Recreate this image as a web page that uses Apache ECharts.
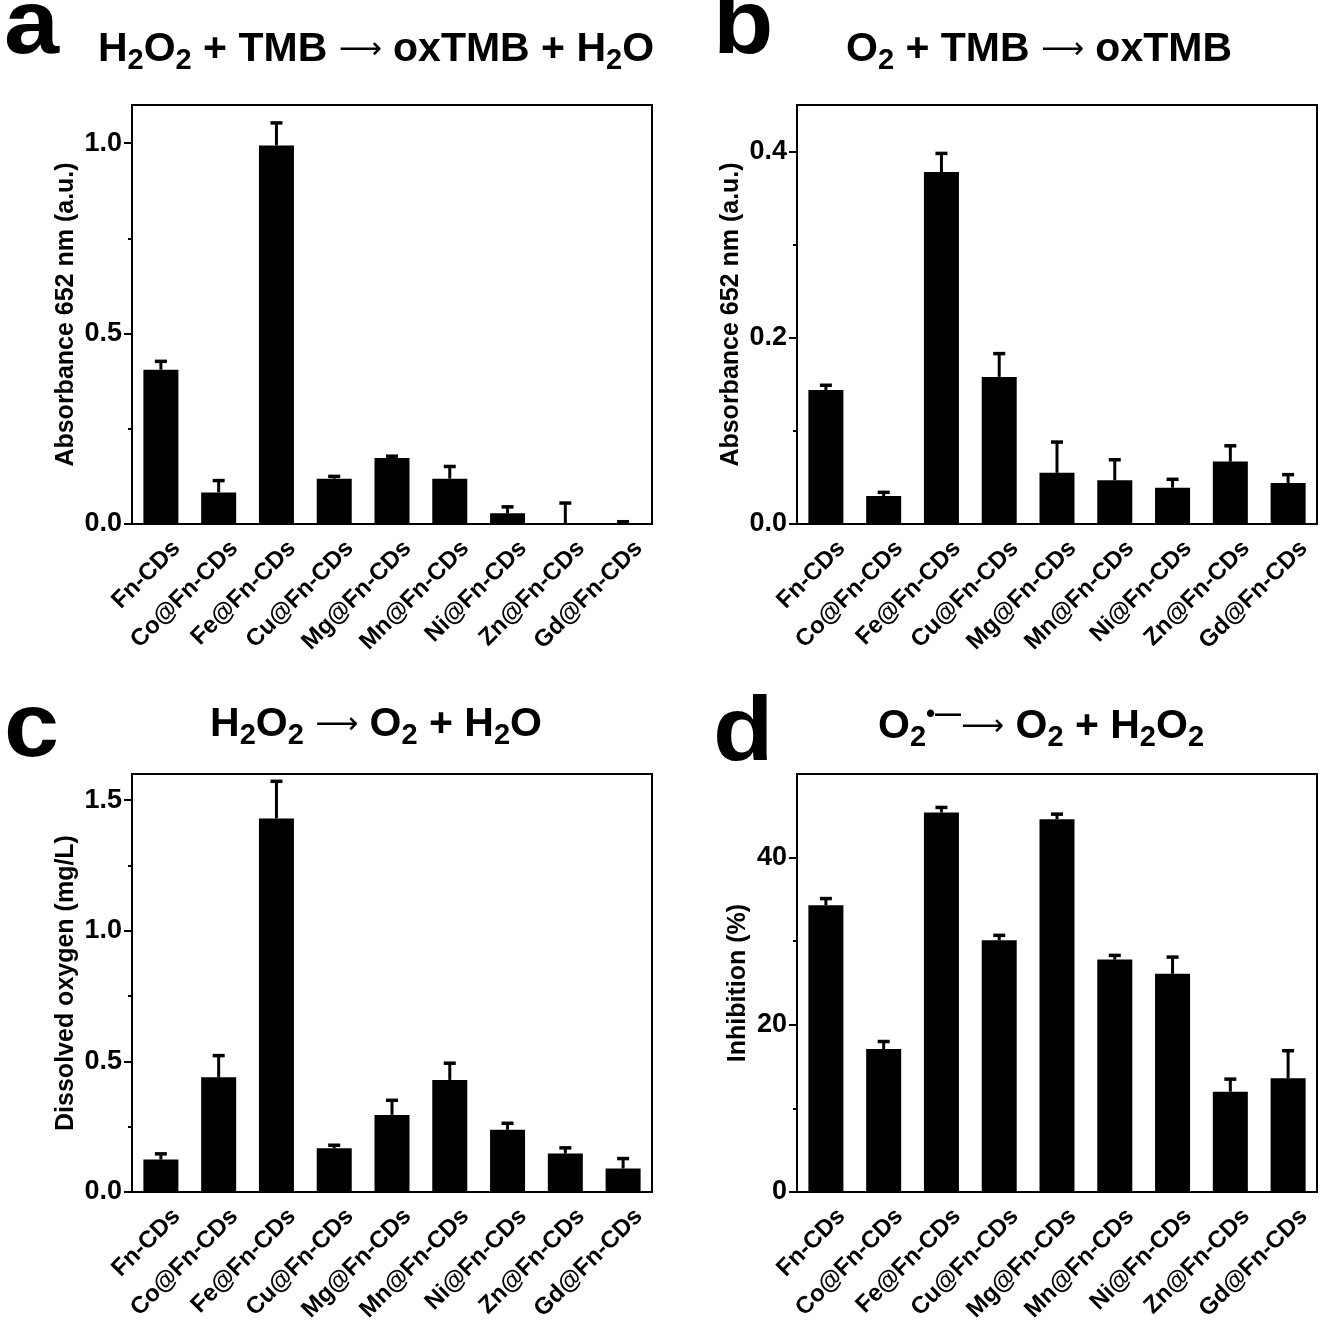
<!DOCTYPE html>
<html><head><meta charset="utf-8">
<script src="https://cdn.jsdelivr.net/npm/echarts@6/dist/echarts.min.js"></script>
<style>html,body{margin:0;padding:0;background:#fff}#c{width:1322px;height:1325px}</style>
</head><body><div id="c"></div>
<script>
const categories = ['Fn-CDs','Co@Fn-CDs','Fe@Fn-CDs','Cu@Fn-CDs','Mg@Fn-CDs','Mn@Fn-CDs','Ni@Fn-CDs','Zn@Fn-CDs','Gd@Fn-CDs'];

// panel a: peroxidase-like (Absorbance 652 nm)
const valuesA = [0.405,0.083,0.994,0.119,0.173,0.119,0.028,0.002,0.001];
const errorsA = [0.022,0.031,0.059,0.006,0.005,0.032,0.017,0.053,0.005];
// panel b: oxidase-like
const valuesB = [0.144,0.030,0.378,0.158,0.055,0.047,0.039,0.067,0.044];
const errorsB = [0.005,0.004,0.020,0.025,0.033,0.022,0.009,0.017,0.009];
// panel c: catalase-like (dissolved oxygen)
const valuesC = [0.124,0.439,1.430,0.167,0.295,0.429,0.238,0.147,0.090];
const errorsC = [0.022,0.083,0.142,0.012,0.056,0.064,0.025,0.022,0.038];
// panel d: SOD-like (inhibition %)
const valuesD = [34.3,17.1,45.4,30.1,44.6,27.8,26.1,12.0,13.6];
const errorsD = [0.8,0.9,0.6,0.6,0.6,0.5,2.0,1.5,3.3];

// axis ticks
const majorA = [0,0.5,1.0], minorA = [0.25,0.75], maxA = 1.1;
const majorB = [0,0.2,0.4], minorB = [0.1,0.3], maxB = 0.45;
const majorC = [0,0.5,1.0,1.5], minorC = [0.25,0.75,1.25], maxC = 1.6;
const majorD = [0,20,40], minorD = [10,30], maxD = 50;

const yNames = ['Absorbance 652 nm (a.u.)','Absorbance 652 nm (a.u.)','Dissolved oxygen (mg/L)','Inhibition (%)'];

const FONT = 'Liberation Sans, Arial, sans-serif';
const panels = [
  {vals:valuesA, errs:errorsA, major:majorA, minor:minorA, max:maxA, dec:1, grid:{left:132, top:105, width:520, height:419}, gap:53},
  {vals:valuesB, errs:errorsB, major:majorB, minor:minorB, max:maxB, dec:1, grid:{left:797, top:105, width:520, height:419}, gap:53},
  {vals:valuesC, errs:errorsC, major:majorC, minor:minorC, max:maxC, dec:1, grid:{left:132, top:774, width:520, height:418}, gap:53},
  {vals:valuesD, errs:errorsD, major:majorD, minor:minorD, max:maxD, dec:0, grid:{left:797, top:774, width:520, height:418}, gap:46}
];

const grids = [], xAxes = [], yAxes = [], series = [];
panels.forEach((p, k) => {
  grids.push(Object.assign({show:true, borderColor:'#000', borderWidth:2, backgroundColor:'transparent',
    containLabel:false, outerBoundsMode:'none'}, p.grid));
  xAxes.push({
    gridIndex:k, type:'category', data:categories,
    axisLine:{lineStyle:{color:'#000', width:2}},
    axisTick:{alignWithLabel:true, length:8, lineStyle:{color:'#000', width:2}},
    axisLabel:{rotate:45, interval:0, color:'#000', fontWeight:'bold', fontSize:24, fontFamily:FONT,
      margin:5, verticalAlign:'top', lineHeight:44}
  });
  yAxes.push({
    gridIndex:k, type:'value', min:0, max:p.max,
    axisLine:{show:true, lineStyle:{color:'#000', width:2}},
    axisTick:{show:true, length:8, customValues:p.major, lineStyle:{color:'#000', width:2}},
    axisLabel:{customValues:p.major, color:'#000', fontWeight:'bold', fontSize:27, fontFamily:FONT, margin:10,
      formatter: v => Number(v).toFixed(p.dec)},
    splitLine:{show:false},
    name:yNames[k], nameLocation:'middle', nameGap:p.gap,
    nameTextStyle:{color:'#000', fontWeight:'bold', fontSize:25, fontFamily:FONT}
  });
  yAxes.push({
    gridIndex:k, type:'value', min:0, max:p.max, position:'left', offset:0,
    axisLine:{show:false},
    axisTick:{show:true, length:4, customValues:p.minor, lineStyle:{color:'#000', width:2}},
    axisLabel:{show:false}, splitLine:{show:false}
  });
  series.push({
    type:'bar', xAxisIndex:k, yAxisIndex:2*k, data:p.vals, barWidth:35,
    itemStyle:{color:'#000'}, silent:true, animation:false, z:2
  });
  series.push({
    type:'custom', xAxisIndex:k, yAxisIndex:2*k, animation:false, silent:true, z:3,
    data: categories.map((c, i) => [i, p.vals[i], p.errs[i]]),
    encode:{x:0, y:1},
    renderItem: (params, api) => {
      const i = api.value(0), v = api.value(1), e = api.value(2);
      const a = api.coord([i, v]), b = api.coord([i, v + e]);
      return {type:'group', children:[
        {type:'line', shape:{x1:a[0], y1:a[1], x2:b[0], y2:b[1]}, style:{stroke:'#000', lineWidth:3}},
        {type:'line', shape:{x1:b[0]-6, y1:b[1], x2:b[0]+6, y2:b[1]}, style:{stroke:'#000', lineWidth:3.5}}
      ]};
    }
  });
});

const rich = {
  t:{fontSize:41, fontWeight:'bold', fontFamily:FONT, lineHeight:50, fill:'#000'},
  s:{fontSize:29, fontWeight:'bold', fontFamily:FONT, lineHeight:20, verticalAlign:'bottom', fill:'#000'},
  a:{fontSize:30, fontWeight:'normal', fontFamily:'DejaVu Sans', lineHeight:50, fill:'#000'},
  p:{fontSize:26, fontWeight:'bold', fontFamily:FONT, lineHeight:30, verticalAlign:'top', fill:'#000'}
};
function title(text, x, y){
  return {type:'text', x:x, y:y, style:{text:text, rich:rich, align:'center', verticalAlign:'middle', fill:'#000'}};
}
function letter(ch, x, y){
  return {type:'text', x:x, y:y, scaleX:1.1, style:{text:ch, font:'bold 90px ' + FONT, fill:'#000', align:'left', verticalAlign:'middle'}};
}

const chart = echarts.init(document.getElementById('c'), null, {renderer:'canvas'});
chart.setOption({
  animation:false,
  backgroundColor:'#fff',
  grid:grids, xAxis:xAxes, yAxis:yAxes, series:series,
  graphic:[
    letter('a', 4, 28), letter('b', 713, 28), letter('c', 4, 731), letter('d', 713, 735),
    title('{t|H}{s|2}{t|O}{s|2}{t| + TMB }{a|\u27F6}{t| oxTMB + H}{s|2}{t|O}', 376, 50),
    title('{t|O}{s|2}{t| + TMB }{a|\u27F6}{t| oxTMB}', 1039, 50),
    title('{t|H}{s|2}{t|O}{s|2}{t| }{a|\u27F6}{t| O}{s|2}{t| + H}{s|2}{t|O}', 376, 725),
    title('{t|O}{s|2}{p|\u2022\u2014}{a|\u27F6}{t| O}{s|2}{t| + H}{s|2}{t|O}{s|2}', 1041, 727)
  ]
});
</script>
</body></html>
